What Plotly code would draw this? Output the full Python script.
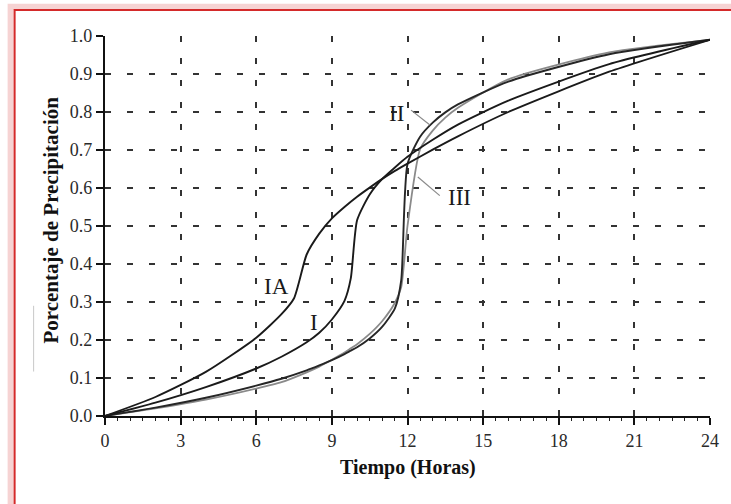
import plotly.graph_objects as go

# ---- data (SCS 24-h rainfall distributions) ----
t_IA = [0, 2, 4, 6, 7, 7.5, 8, 8.5, 9, 9.5, 10, 10.5, 11, 11.5, 12, 13, 14, 16, 20, 24]
p_IA = [0, 0.050, 0.116, 0.206, 0.268, 0.310, 0.425, 0.480, 0.520, 0.550, 0.577, 0.601,
        0.624, 0.645, 0.664, 0.701, 0.736, 0.800, 0.906, 0.99]

t_I = [0, 2, 4, 6, 7, 8, 8.5, 9, 9.5, 9.75, 10, 10.5, 11, 11.5, 12, 13, 14, 16, 20, 24]
p_I = [0, 0.035, 0.076, 0.125, 0.156, 0.194, 0.219, 0.254, 0.303, 0.362, 0.515, 0.583,
       0.624, 0.654, 0.682, 0.727, 0.767, 0.830, 0.926, 0.99]

t_II = [0, 2, 4, 6, 7, 8, 8.5, 9, 9.5, 9.75, 10, 10.5, 11, 11.5, 11.75, 12, 12.5, 13, 13.5, 14, 16, 20, 24]
p_II = [0, 0.022, 0.048, 0.080, 0.098, 0.120, 0.133, 0.147, 0.163, 0.172, 0.181, 0.204,
        0.235, 0.283, 0.357, 0.663, 0.735, 0.772, 0.799, 0.820, 0.880, 0.952, 0.99]

t_III = [0, 2, 4, 6, 7, 8, 8.5, 9, 9.5, 9.75, 10, 10.5, 11, 11.5, 11.75, 12, 12.5, 13, 13.5, 14, 16, 20, 24]
p_III = [0, 0.020, 0.043, 0.072, 0.089, 0.115, 0.130, 0.148, 0.167, 0.178, 0.189, 0.216,
         0.250, 0.298, 0.339, 0.500, 0.702, 0.751, 0.785, 0.811, 0.886, 0.957, 0.99]

x_ticks = [0, 3, 6, 9, 12, 15, 18, 21, 24]
y_ticks = [0.0, 0.1, 0.2, 0.3, 0.4, 0.5, 0.6, 0.7, 0.8, 0.9, 1.0]
y_ticktext = ["0.0", "0.1", "0.2", "0.3", "0.4", "0.5", "0.6", "0.7", "0.8", "0.9", "1.0"]

labels = ["IA", "I", "II", "III"]
label_x = [6.82, 8.31, 11.55, 14.07]
label_y = [0.34, 0.245, 0.797, 0.576]

SERIF = "Liberation Serif, Times New Roman, serif"

fig = go.Figure()
fig.add_trace(go.Scatter(x=t_III, y=p_III, mode="lines", line=dict(color="#8a8a8a", width=1.8, shape="spline", smoothing=0.6), cliponaxis=False, showlegend=False))
fig.add_trace(go.Scatter(x=t_II, y=p_II, mode="lines", line=dict(color="#262626", width=1.9, shape="spline", smoothing=0.6), cliponaxis=False, showlegend=False))
fig.add_trace(go.Scatter(x=t_I, y=p_I, mode="lines", line=dict(color="#1a1a1a", width=1.9, shape="spline", smoothing=0.6), cliponaxis=False, showlegend=False))
fig.add_trace(go.Scatter(x=t_IA, y=p_IA, mode="lines", line=dict(color="#1a1a1a", width=1.9, shape="spline", smoothing=0.6), cliponaxis=False, showlegend=False))

# curve labels
for txt, lx, ly in zip(labels, label_x, label_y):
    fig.add_annotation(x=lx, y=ly, xref="x", yref="y", text=txt, showarrow=False,
                       font=dict(family=SERIF, size=23, color="#1a1a1a"))

# leader lines for II and III
fig.add_shape(type="line", xref="x", yref="y", x0=12.14, y0=0.805, x1=12.89, y1=0.766,
              line=dict(color="#8a8a8a", width=1.2))
fig.add_shape(type="line", xref="x", yref="y", x0=13.28, y0=0.58, x1=12.41, y1=0.629,
              line=dict(color="#8a8a8a", width=1.2))

# axis titles
fig.add_annotation(x=0.5, y=-0.10, xref="paper", yref="paper", text="<b>Tiempo (Horas)</b>",
                   showarrow=False, yanchor="top", font=dict(family=SERIF, size=20, color="#111"))
fig.add_annotation(x=-0.113, y=0.516, xref="paper", yref="paper", text="<b>Porcentaje de Precipitación</b>",
                   showarrow=False, textangle=-90, font=dict(family=SERIF, size=21, color="#111"))

# red frame with soft glow
fig.add_shape(type="rect", xref="paper", yref="paper", x0=-0.156, y0=-0.3, x1=1.08, y1=1.077,
              line=dict(color="rgba(225,110,110,0.3)", width=6), layer="below")
fig.add_shape(type="rect", xref="paper", yref="paper", x0=-0.1494, y0=-0.3, x1=1.07, y1=1.0684,
              line=dict(color="#d42a2a", width=2))
# faint scan line left of the y title
fig.add_shape(type="line", xref="paper", yref="paper", x0=-0.118, y0=0.29, x1=-0.118, y1=0.117,
              line=dict(color="#c8c8c8", width=1))

fig.update_xaxes(range=[0, 24], tickvals=x_ticks, ticktext=[str(v) for v in x_ticks],
                 showline=True, linecolor="#111", linewidth=2.4, zeroline=False,
                 ticks="outside", ticklen=7, tickwidth=2, tickcolor="#111",
                 minor=dict(dtick=0.5, ticks="outside", ticklen=3, tickwidth=1, tickcolor="#222", showgrid=False),
                 showgrid=True, gridcolor="#333", gridwidth=2, griddash="6px,16px",
                 tickfont=dict(family=SERIF, size=18, color="#2a2a2a"), fixedrange=True)
fig.update_yaxes(range=[0, 1], tickvals=y_ticks, ticktext=y_ticktext,
                 showline=True, linecolor="#111", linewidth=2.4, zeroline=False,
                 ticks="outside", ticklen=7, tickwidth=2, tickcolor="#111",
                 showgrid=True, gridcolor="#333", gridwidth=2, griddash="6px,16px",
                 tickfont=dict(family=SERIF, size=18, color="#2a2a2a"), fixedrange=True)

fig.update_layout(width=731, height=504, margin=dict(l=105, r=17, t=36, b=88),
                  paper_bgcolor="white", plot_bgcolor="white", showlegend=False)

fig.write_html("out.html")
